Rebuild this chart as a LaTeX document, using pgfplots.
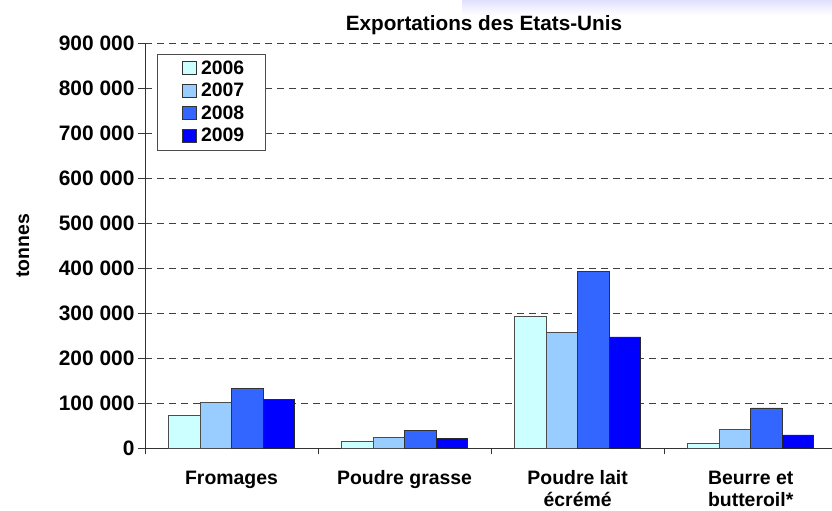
\documentclass[border=0pt]{standalone}
\usepackage{pgfplots}
\pgfplotsset{compat=1.18}
\usepackage{fontspec}
\setmainfont{Liberation Sans}
\definecolor{c06}{HTML}{CCFFFF}
\definecolor{c07}{HTML}{99CCFF}
\definecolor{c08}{HTML}{3366FF}
\definecolor{c09}{HTML}{0000FF}
\newcommand{\lf}{\fontsize{19.5}{22}\selectfont\bfseries}
\newcommand{\yf}{\fontsize{21}{24}\selectfont\bfseries}
\newcommand{\tf}{\fontsize{20.8}{24}\selectfont\bfseries}
\begin{document}
\begin{tikzpicture}[x=1bp,y=1bp]
\shade[top color=blue!12, bottom color=white] (462,496) rectangle (832,511);
\begin{axis}[
  at={(145bp,62.7bp)}, anchor=south west,
  scale only axis, width=687bp, height=405.3bp,
  xmin=-0.5, xmax=3.47, ymin=0, ymax=900000,
  axis lines*=left,
  axis line style={black!80, line width=1bp},
  ybar=0pt, bar width=31.5bp,
  xtick={0,1,2,3},
  xticklabels={Fromages, Poudre grasse, {Poudre lait\\écrémé}, {Beurre et\\butteroil*}},
  minor xtick={-0.5,0.5,1.5,2.5},
  major x tick style={draw=none},
  minor x tick style={black!80, line width=0.8bp},
  minor tick length=6bp,
  tick align=outside,
  ytick={0,100000,...,900000},
  yticklabels={0,100 000,200 000,300 000,400 000,500 000,600 000,700 000,800 000,900 000},
  scaled y ticks=false,
  major tick length=7bp,
  ytick style={black!80, line width=0.8bp},
  ymajorgrids,
  grid style={black!75, line width=0.8bp, dash pattern=on 7bp off 5bp},
  yticklabel style={font=\yf},
  xticklabel style={font=\lf, align=center, anchor=north, yshift=-12bp},
  ylabel={tonnes},
  ylabel style={font=\lf, at={(axis description cs:-0.1776,0.4996)}, anchor=center},
  title={Exportations des Etats-Unis},
  title style={font=\tf, at={(axis description cs:0.4934,1)}, anchor=base, yshift=6.5bp},
  legend style={at={(axis description cs:0.0175,0.973)}, anchor=north west,
    draw=black!70, fill=white, font=\lf, row sep=3.5bp, inner xsep=17bp, inner ysep=4.5bp,
    nodes={inner xsep=4bp}},
  legend cell align=left,
  legend image code/.code={\path (0bp,0bp); \draw[#1, draw=black!80] (8bp,-6.5bp) rectangle (22bp,6.5bp);},
]
\addplot[fill=c06, draw=black!70, line width=0.8bp] coordinates {(0,72400) (1,14700) (2,292000) (3,11100)};
\addplot[fill=c07, draw=black!70, line width=0.8bp] coordinates {(0,101300) (1,23600) (2,257800) (3,42200)};
\addplot[fill=c08, draw=black!80, line width=0.8bp] coordinates {(0,132400) (1,40000) (2,391800) (3,89600)};
\addplot[fill=c09, draw=black!85, line width=0.8bp] coordinates {(0,108900) (1,22200) (2,247300) (3,29600)};
\legend{2006,2007,2008,2009}
\end{axis}
\pgfresetboundingbox
\useasboundingbox (0,0) rectangle (832,511);
\end{tikzpicture}
\end{document}
